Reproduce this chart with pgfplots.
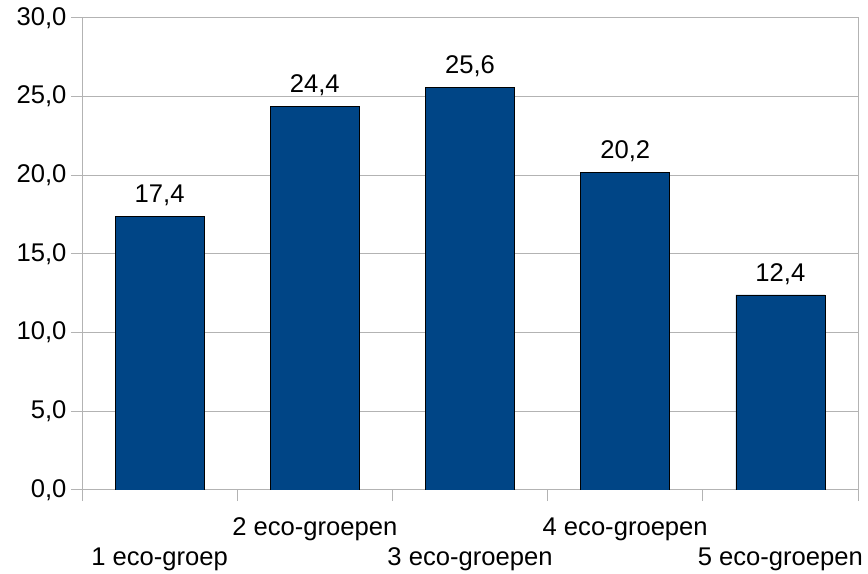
\documentclass[border=0pt]{standalone}
\usepackage{pgfplots}
\pgfplotsset{compat=1.18}
\usepackage{fontspec}
\setmainfont{Liberation Sans}
\definecolor{barblue}{HTML}{004586}
\definecolor{gridgray}{HTML}{B3B3B3}

\begin{document}
\begin{tikzpicture}
% fixed canvas
\path (0,0) rectangle (868bp,574bp);
\begin{axis}[
  at={(82bp,84bp)}, anchor=south west,
  scale only axis, width=776bp, height=472bp,
  xmin=-0.5, xmax=4.5, ymin=0, ymax=30,
  ytick={0,5,...,30},
  xtick={-0.5,0.5,...,4.5},
  x tick label as interval,
  xticklabels={{\vphantom{1}\\1 eco-groep},{2 eco-groepen},{\vphantom{1}\\3 eco-groepen},{4 eco-groepen},{\vphantom{1}\\5 eco-groepen}},
  xticklabel style={align=center, yshift=-13bp},
  yticklabel style={xshift=-1bp},
  xtick pos=bottom, ytick pos=left,
  tick align=outside, major tick length=11bp,
  tick style={gridgray, line width=1bp},
  ymajorgrids, grid style={gridgray, line width=1bp},
  axis line style={gridgray, line width=1bp},
  font={\fontsize{25.6bp}{30bp}\selectfont},
  /pgf/number format/assume math mode=true,
  yticklabel style={/pgf/number format/.cd, fixed, fixed zerofill, precision=1, use comma},
  ybar, bar width=89bp,
  nodes near coords,
  nodes near coords style={anchor=base, yshift=13.5bp, black,
    /pgf/number format/.cd, fixed, fixed zerofill, precision=1, use comma},
]
\addplot[fill=barblue, draw=black, line width=0.8bp] coordinates {
  (0,17.4) (1,24.4) (2,25.6) (3,20.2) (4,12.4)
};
\end{axis}
\end{tikzpicture}
\end{document}
